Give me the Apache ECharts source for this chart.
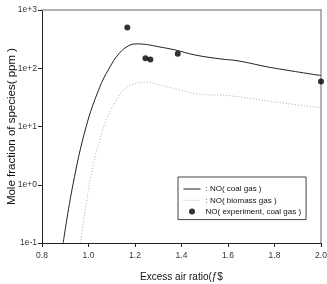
<!DOCTYPE html>
<html><head><meta charset="utf-8">
<script src="https://cdn.jsdelivr.net/npm/echarts@6/dist/echarts.min.js"></script>
<style>html,body{margin:0;padding:0;background:#fff}#c{width:327px;height:284px}</style>
</head><body><div id="c"></div>
<script>
const xTicks = [0.8, 1.0, 1.2, 1.4, 1.6, 1.8, 2.0];
const yTicks = [0.1, 1, 10, 100, 1000];
const coalGas = [[0.891,0.1],[0.933,1],[0.99,10],[1.047,46],[1.089,100],[1.132,180],[1.174,245],[1.21,262],[1.25,255],[1.302,234],[1.373,206],[1.458,169],[1.571,144],[1.643,134],[1.784,103],[2.0,75]];
const biomassGas = [[0.966,0.1],[0.99,0.47],[1.018,2.0],[1.047,5.6],[1.075,12.6],[1.117,27],[1.16,46],[1.203,55],[1.245,58],[1.274,56],[1.387,43],[1.472,36],[1.6,34],[1.784,27],[2.0,21]];
const experiment = [[1.167,500],[1.245,148],[1.266,142],[1.384,178],[2.0,59]];
const names = [': NO( coal gas )', ': NO( biomass gas )', 'NO( experiment, coal gas )'];

const chart = echarts.init(document.getElementById('c'), null, {renderer:'canvas'});
const fam = 'Liberation Sans, Arial, sans-serif';
function fmtLog(v){ const e = Math.round(Math.log10(v)); return '1e' + (e>=0?'+':'-') + Math.abs(e); }
chart.setOption({
  animation:false,
  grid:{left:42,right:6,top:10,bottom:41,containLabel:false,outerBoundsMode:'none'},
  legend:{
    orient:'vertical', left:178, top:177,
    data:[
      {name:names[0], itemStyle:{opacity:0}, lineStyle:{width:1,color:'#222'}},
      {name:names[1], itemStyle:{opacity:0}, lineStyle:{width:1,color:'#aaa',type:[1,2]}},
      {name:names[2], icon:'circle'}],
    itemWidth:17, itemHeight:6, itemGap:3.3,
    borderColor:'#444', borderWidth:1, padding:[8,5,4,5],
    textStyle:{fontFamily:fam, fontSize:8, color:'#111'}
  },
  xAxis:[{
    type:'value', min:0.8, max:2.0, interval:0.2,
    name:'Excess air ratio(ƒ$', nameLocation:'middle', nameGap:29, nameMoveOverlap:false,
    nameTextStyle:{fontFamily:fam, fontSize:10, color:'#111'},
    axisLine:{lineStyle:{color:'#222',width:1}},
    axisTick:{show:true,length:4,lineStyle:{color:'#222'}},
    axisLabel:{margin:8,fontFamily:fam,fontSize:8.5,color:'#333',formatter:v=>v.toFixed(1)},
    splitLine:{show:false}
  },{
    type:'value', min:0.8, max:2.0, position:'top',
    axisLine:{show:true,lineStyle:{color:'#999',width:1.5}},
    axisTick:{show:false}, axisLabel:{show:false}, splitLine:{show:false}
  }],
  yAxis:[{
    type:'log', logBase:10, min:0.1, max:1000,
    name:'Mole fraction of species( ppm )', nameLocation:'middle', nameGap:24, nameRotate:90, nameMoveOverlap:false,
    nameTextStyle:{fontFamily:fam, fontSize:11.5, color:'#111'},
    axisLine:{show:true,lineStyle:{color:'#222',width:1}},
    axisTick:{show:true,length:4,lineStyle:{color:'#222'}},
    minorTick:{show:false},
    axisLabel:{margin:5,fontFamily:fam,fontSize:8.5,color:'#333',formatter:fmtLog},
    splitLine:{show:false}
  },{
    type:'log', logBase:10, min:0.1, max:1000, position:'right',
    axisLine:{show:true,lineStyle:{color:'#999',width:1.5}},
    axisTick:{show:false}, axisLabel:{show:false}, splitLine:{show:false}
  }],
  series:[
    {name:names[0], type:'line', data:coalGas, smooth:0.4, showSymbol:false, symbol:'none',
     lineStyle:{color:'#222',width:1}, itemStyle:{color:'#222'}, clip:true},
    {name:names[1], type:'line', data:biomassGas, smooth:0.4, showSymbol:false, symbol:'none',
     lineStyle:{color:'#aaa',width:1,type:[1,2]}, itemStyle:{color:'#aaa'}, clip:true},
    {name:names[2], type:'scatter', data:experiment, symbol:'circle', symbolSize:6,
     itemStyle:{color:'#000'}, clip:false}
  ]
});
</script></body></html>
